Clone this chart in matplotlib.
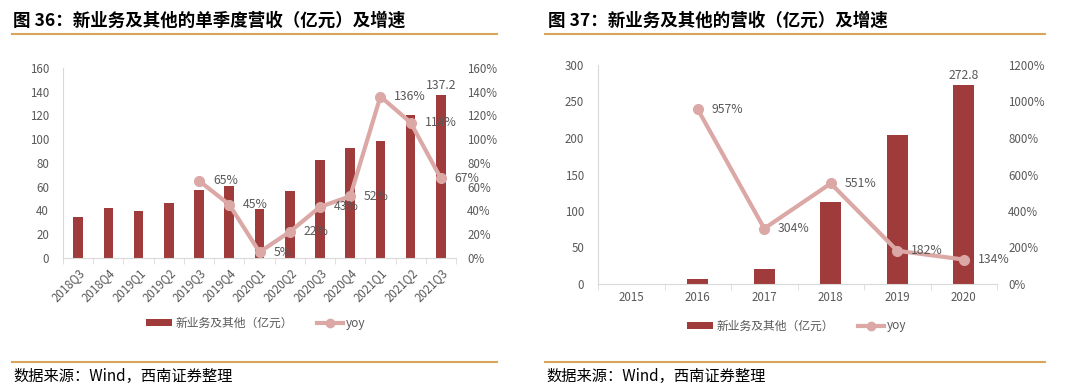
import matplotlib
matplotlib.use("Agg")
import matplotlib.pyplot as plt
from matplotlib.lines import Line2D
from matplotlib.patches import Patch
import numpy as np

plt.rcParams['font.family'] = ['Noto Sans CJK SC', 'DejaVu Sans']

# Data - figure 36 (quarterly)
quarters = ["2018Q3", "2018Q4", "2019Q1", "2019Q2", "2019Q3", "2019Q4", "2020Q1",
            "2020Q2", "2020Q3", "2020Q4", "2021Q1", "2021Q2", "2021Q3"]
q_revenue = [34.5, 41.8, 39.7, 46.0, 57.3, 60.7, 41.5, 56.2, 82.3, 92.4, 98.7, 120.4, 137.2]
q_yoy = [None, None, None, None, 65, 45, 5, 22, 43, 52, 136, 114, 67]

# Data - figure 37 (annual)
years = ["2015", "2016", "2017", "2018", "2019", "2020"]
y_revenue = [0, 6.9, 20.5, 112.5, 204.0, 272.8]
y_yoy = [None, 957, 304, 551, 182, 134]

BAR = "#9F3B3A"
LINE = "#DBA8A6"
GRID_TXT = "#595959"
ORANGE = "#D9A55A"
SPINE = "#D9D9D9"

W, H = 1080, 387
fig = plt.figure(figsize=(W / 100, H / 100), dpi=100)


def fx(px):
    return px / W


def fy(py):
    return 1 - py / H


def draw_panel(rect, cats, rev, yoy, ymax, ystep, y2max, y2step, rotate, last_label):
    ax = fig.add_axes(rect)
    x = np.arange(len(cats))
    ax.bar(x, rev, width=0.32, color=BAR, zorder=2)
    ax.set_xlim(-0.5, len(cats) - 0.5)
    ax.set_ylim(0, ymax)
    ax.set_yticks(np.arange(0, ymax + 1, ystep))
    ax.set_xticks(x)
    if rotate:
        ax.set_xticklabels(cats, rotation=45, ha="right", rotation_mode="anchor")
    else:
        ax.set_xticklabels(cats)
    ax.set_xticks(np.arange(-0.5, len(cats)), minor=True)
    ax.tick_params(axis="x", which="major", length=0, pad=6 if rotate else 5,
                   labelsize=8.3, labelcolor=GRID_TXT)
    ax.tick_params(axis="x", which="minor", length=4, color=SPINE)
    ax.tick_params(axis="y", length=0, labelsize=8.3, labelcolor=GRID_TXT, pad=10)
    for s in ["top", "right"]:
        ax.spines[s].set_visible(False)
    ax.spines["left"].set_color(SPINE)
    ax.spines["bottom"].set_color(SPINE)
    ax.text(x[-1], rev[-1] + ymax * 0.015, last_label, ha="center", va="bottom",
            fontsize=8.8, color=GRID_TXT)

    ax2 = ax.twinx()
    ax2.set_ylim(0, y2max)
    ax2.set_yticks(np.arange(0, y2max + 1, y2step))
    ax2.set_yticklabels([f"{int(v)}%" for v in np.arange(0, y2max + 1, y2step)])
    ax2.tick_params(axis="y", length=0, labelsize=8.3, labelcolor=GRID_TXT, pad=8)
    for s in ["top", "right", "left", "bottom"]:
        ax2.spines[s].set_visible(False)
    xs = [i for i, v in enumerate(yoy) if v is not None]
    vs = [v for v in yoy if v is not None]
    ax2.plot(xs, vs, color=LINE, lw=3, marker="o", ms=7, zorder=3)
    for xi, v in zip(xs, vs):
        ax2.annotate(f"{v}%", (xi, v), xytext=(10, 0), textcoords="offset points",
                     ha="left", va="center", fontsize=8.8, color=GRID_TXT)
    return ax


draw_panel([fx(63), fy(258), fx(456) - fx(63), fy(68) - fy(258)],
           quarters, q_revenue, q_yoy, 160, 20, 160, 20, True, "137.2")
draw_panel([fx(598), fy(284), fx(997) - fx(598), fy(65) - fy(284)],
           years, y_revenue, y_yoy, 300, 50, 1200, 200, False, "272.8")

# titles and rules
fig.text(fx(13), fy(21), "图 36：新业务及其他的单季度营收（亿元）及增速",
         fontsize=12.6, fontweight="bold", va="center", ha="left", color="#000000")
fig.text(fx(548), fy(21), "图 37：新业务及其他的营收（亿元）及增速",
         fontsize=12.6, fontweight="bold", va="center", ha="left", color="#000000")
for x0, x1 in [(12, 497), (545, 1045)]:
    for yy in [34, 362]:
        fig.add_artist(Line2D([fx(x0), fx(x1)], [fy(yy), fy(yy)], color=ORANGE, lw=1.5))

fig.text(fx(13), fy(376), "数据来源：Wind，西南证券整理", fontsize=11, style="italic",
         va="center", ha="left", color="#000000")
fig.text(fx(546), fy(376), "数据来源：Wind，西南证券整理", fontsize=11, style="italic",
         va="center", ha="left", color="#000000")

# legends
handles = [Patch(facecolor=BAR, edgecolor="none"),
           Line2D([], [], color=LINE, lw=3, marker="o", ms=6)]
labels = ["新业务及其他（亿元）", "yoy"]
for cx, cy in [(256, 323), (797, 326)]:
    fig.legend(handles, labels, loc="center", bbox_to_anchor=(fx(cx), fy(cy)), ncol=2,
               frameon=False, fontsize=8.5, labelcolor=GRID_TXT, handlelength=2.2,
               handleheight=0.5, handletextpad=0.3, columnspacing=2.0)

fig.savefig("out.png", dpi=100)
